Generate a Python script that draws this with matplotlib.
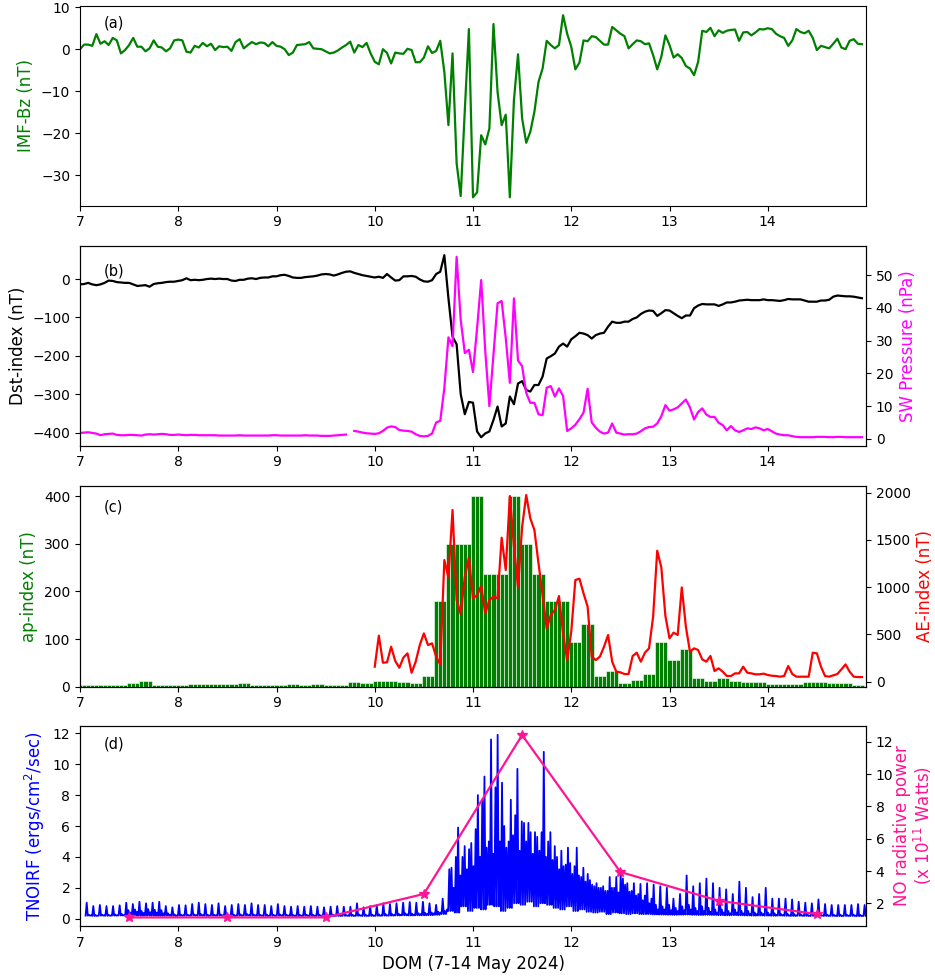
import numpy as np
import matplotlib
matplotlib.use('Agg')
import matplotlib.pyplot as plt
from matplotlib.transforms import blended_transform_factory

# ---------------- data (hourly, 7 May 00UT .. 14 May 23UT) ----------------
imf_bz = [
    0.0, 1.1, 1.1, 0.8, 3.6, 1.3, 1.9, 1.0, 2.7, 2.1, -1.0, -0.2, 1.0, 2.7, 0.6, 0.6, -0.5, 0.2, 2.1, 0.6, 0.4, -0.5, 0.2, 2.1,
    2.3, 2.1, -0.6, -0.8, 0.8, 0.4, 1.5, 0.7, 1.3, -0.2, 0.7, 0.5, 0.6, -0.4, 1.7, 2.4, 0.2, 1.0, 1.7, 1.2, 1.6, 1.5, 0.7, 1.7,
    0.8, 0.6, 0.0, -1.4, -0.8, 1.0, 1.1, 1.2, 1.7, 0.2, 0.1, 0.0, -0.5, -1.0, -0.8, -0.3, 0.4, 1.0, 1.8, -0.8, 1.0, 0.5, 1.5, -1.0,
    -3.0, -3.6, 0.0, -0.9, -3.4, -0.8, -1.0, -1.1, 0.1, -0.2, -3.1, -3.1, -2.0, 0.7, -0.9, -0.4, 2.0, -5.4, -18.1, -1.0, -27.2, -35.0, -14.5, 4.8,
    -35.3, -34.1, -20.5, -22.7, -18.9, 6.0, -10.2, -18.1, -15.6, -35.3, -12.1, -1.2, -16.5, -22.3, -19.7, -14.9, -7.8, -4.6, 2.0, 1.0, 0.2, 1.0, 8.1, 3.7,
    0.6, -4.8, -3.2, 2.1, 1.9, 3.1, 2.9, 2.0, 1.1, 1.1, 5.3, 4.5, 3.7, 3.1, 0.2, 1.2, 2.1, 1.9, 1.2, 1.4, -1.4, -4.8, -1.8, 3.3,
    1.0, -2.0, -1.2, -2.1, -4.0, -4.6, -6.2, -3.0, 4.4, 4.1, 5.1, 3.1, 4.5, 3.9, 4.4, 4.6, 4.7, 2.0, 4.0, 4.1, 3.3, 4.0, 4.8, 4.7,
    5.0, 4.8, 3.7, 3.1, 2.7, 0.8, 2.1, 4.8, 4.1, 3.8, 4.4, 2.7, -0.2, 0.8, 0.5, 0.2, 1.3, 2.5, 0.4, 0.0, 2.0, 2.4, 1.3, 1.2,
]

dst = [
    -14, -13, -10, -14, -16, -14, -10, -4, -5, -8, -9, -10, -10, -14, -18, -17, -16, -20, -13, -11, -10, -8, -7, -7,
    -5, -3, 2, -3, -2, -3, -2, 0, 1, 0, 1, 0, 0, -4, -5, -2, -2, 1, 2, 0, 3, 4, 4, 7,
    7, 10, 11, 8, 4, 3, 3, 5, 6, 7, 9, 12, 13, 12, 9, 12, 16, 19, 20, 16, 13, 10, 8, 6,
    4, 6, 3, 13, 4, -4, -3, 7, 7, 8, 6, -1, -6, -7, -3, 13, 19, 62, -50, -150, -170, -300, -352, -320,
    -322, -397, -412, -402, -397, -367, -332, -384, -376, -306, -326, -272, -266, -289, -293, -276, -276, -254, -207, -201, -194, -176, -168, -176,
    -157, -149, -140, -142, -146, -155, -146, -142, -140, -124, -111, -114, -114, -111, -111, -104, -100, -91, -85, -82, -83, -96, -89, -81,
    -82, -89, -96, -102, -95, -95, -76, -69, -65, -66, -66, -66, -70, -66, -61, -61, -59, -56, -55, -54, -55, -55, -55, -53,
    -55, -55, -56, -57, -55, -52, -53, -53, -53, -56, -59, -59, -59, -56, -56, -54, -46, -43, -44, -45, -45, -46, -48, -50,
]

sw_pressure = [
    1.8, 1.9, 2.0, 1.8, 1.6, 1.1, 1.4, 1.5, 1.6, 1.2, 1.1, 1.1, 1.2, 1.2, 1.1, 1.0, 1.3, 1.4, 1.3, 1.4, 1.5, 1.4, 1.2, 1.2,
    1.3, 1.2, 1.1, 1.2, 1.2, 1.1, 1.1, 1.1, 1.1, 1.1, 1.0, 1.0, 1.0, 1.0, 1.0, 1.1, 1.0, 1.0, 1.0, 1.0, 1.0, 1.0, 1.0, 1.1,
    1.1, 1.0, 1.0, 1.0, 1.0, 1.0, 1.0, 1.1, 1.0, 1.0, 1.0, 0.9, 0.9, 0.9, 1.0, 1.1, 1.2, 1.3, np.nan, 2.4, 2.2, 1.9, 1.7, 1.6,
    1.5, 1.7, 2.4, 3.4, 3.8, 3.6, 2.7, 2.5, 2.4, 2.2, 1.4, 0.9, 0.75, 0.9, 1.6, 5.0, 5.5, 15.5, 31.0, 28.3, 55.6, 36.3, 26.2, 27.2,
    20.4, 33.8, 48.5, 26.7, 10.0, 25.7, 41.4, 42.1, 30.8, 17.1, 42.9, 23.9, 22.2, 14.0, 11.0, 11.0, 7.5, 7.2, 15.6, 16.1, 12.9, 15.4, 13.1, 2.4,
    3.2, 4.3, 6.0, 8.0, 15.3, 5.0, 3.4, 2.2, 1.6, 1.9, 4.7, 1.9, 1.6, 1.3, 1.4, 1.4, 1.6, 2.3, 3.2, 3.6, 3.7, 4.7, 6.9, 10.3,
    8.6, 9.0, 9.6, 10.8, 12.0, 9.6, 5.9, 8.2, 9.3, 7.4, 6.7, 6.7, 4.9, 4.2, 2.6, 3.9, 2.6, 2.1, 2.6, 3.2, 3.0, 3.5, 3.2, 2.6,
    3.0, 2.3, 1.6, 1.3, 1.1, 1.1, 0.8, 0.6, 0.5, 0.5, 0.5, 0.5, 0.6, 0.6, 0.6, 0.5, 0.5, 0.6, 0.6, 0.5, 0.5, 0.5, 0.5, 0.5,
]

# ap index, 3-hourly (8 per day)
ap_3h = [
    4, 4, 4, 4, 7, 12, 4, 4,
    4, 6, 6, 6, 6, 7, 3, 3,
    3, 5, 3, 5, 4, 4, 9, 7,
    12, 12, 9, 7, 22, 179, 300, 300,
    400, 236, 236, 400, 300, 236, 179, 179,
    94, 132, 22, 32, 7, 15, 27, 94,
    56, 80, 18, 12, 18, 12, 9, 9,
    5, 5, 5, 9, 9, 7, 7, 3,
]

# AE index, hourly from 10 May 00UT
ae_index = [
    159, 487, 201, 205, 370, 220, 148, 255, 300, 95, 212, 388, 511, 388, 406, 265, 183, 1287, 1104, 1817, 864, 716, 1111, 1312,
    882, 917, 1012, 723, 864, 899, 882, 1524, 1182, 1965, 1429, 998, 1640, 1975, 1728, 1605, 1252, 917, 564, 705, 758, 906, 511, 229,
    529, 1076, 1090, 935, 794, 265, 229, 265, 370, 494, 212, 106, 99, 81, 81, 272, 307, 212, 307, 353, 688, 1386, 1210, 695,
    459, 519, 494, 998, 582, 317, 353, 335, 236, 212, 272, 113, 141, 106, 60, 60, 88, 88, 159, 95, 88, 78, 78, 85,
    71, 63, 60, 53, 60, 166, 81, 53, 53, 53, 53, 307, 300, 159, 60, 53, 67, 81, 131, 183, 106, 53, 49, 49,
]

# TNOIRF per TIMED orbit: trough, main peak, and two secondary spikes
tn_peak = [
    1.04, 0.82, 0.89, 0.82, 0.82, 0.87, 1.04, 0.95, 1.10, 1.00, 1.04, 1.10, 0.82, 0.74, 0.89, 0.87, 0.95, 1.04, 0.95, 0.89,
    1.00, 0.82, 0.89, 0.95, 0.89, 1.00, 0.89, 0.89, 0.82, 0.95, 0.82, 0.78, 0.82, 0.78, 0.82, 0.78, 0.74, 0.78, 0.82, 0.78,
    0.78, 1.00, 0.74, 0.82, 0.87, 1.00, 0.95, 1.00, 1.04, 1.08, 1.04, 1.10, 1.00, 0.90, 1.30,
    3.2, 4.0, 4.0, 4.5, 5.8, 7.7, 5.0, 8.5, 8.8, 5.0, 6.7, 6.3, 6.2, 5.6, 5.6, 5.0, 4.7, 4.4, 4.6, 3.4,
    2.7, 2.9, 2.1, 2.0, 1.8, 2.0, 2.9, 2.3, 2.3, 2.25, 2.3,
    2.2, 2.1, 2.0, 1.3, 1.6, 2.8, 2.1, 2.3, 2.6, 2.3, 2.0, 1.9, 1.6, 2.4, 2.0, 1.4, 1.6, 2.0, 1.3, 1.3,
    1.3, 1.25, 1.1, 1.04, 1.0, 1.25, 0.95, 0.89, 0.89, 0.89, 0.89, 0.95, 0.89,
]
tn_mid = [
    0.25, 0.24, 0.26, 0.25, 0.27, 0.30, 0.55, 0.60, 0.50, 0.62, 0.58, 0.55, 0.35, 0.28, 0.26, 0.25, 0.27, 0.30, 0.26, 0.25,
    0.27, 0.25, 0.26, 0.28, 0.30, 0.27, 0.25, 0.26, 0.25, 0.27, 0.25, 0.24, 0.25, 0.26, 0.25, 0.24, 0.25, 0.26, 0.25, 0.24,
    0.25, 0.27, 0.25, 0.26, 0.28, 0.30, 0.30, 0.32, 0.35, 0.33, 0.35, 0.38, 0.40, 0.45, 0.50,
    3.3, 5.9, 4.7, 4.9, 8.0, 9.2, 11.6, 11.9, 6.0, 7.7, 9.7, 6.2, 5.6, 5.3, 10.8, 5.6, 4.0, 3.4, 3.6, 4.6,
    3.3, 2.5, 2.3, 2.1, 2.7, 2.7, 2.6, 1.75, 1.5, 1.2, 1.0,
    0.9, 0.8, 0.9, 0.7, 0.8, 0.9, 0.7, 0.8, 0.7, 0.6, 0.6, 0.5, 0.6, 0.5, 0.5, 0.4, 0.4, 0.4, 0.35, 0.3,
    0.3, 0.3, 0.28, 0.28, 0.27, 0.28, 0.26, 0.25, 0.26, 0.25, 0.26, 0.25, 0.25,
]
tn_mid2 = [
    0.22, 0.20, 0.22, 0.21, 0.22, 0.24, 0.40, 0.45, 0.38, 0.42, 0.40, 0.35, 0.25, 0.21, 0.22, 0.22, 0.23, 0.24, 0.22, 0.22,
    0.22, 0.21, 0.20, 0.22, 0.23, 0.22, 0.21, 0.20, 0.21, 0.22, 0.21, 0.20, 0.20, 0.21, 0.20, 0.20, 0.21, 0.20, 0.20, 0.21,
    0.20, 0.21, 0.20, 0.20, 0.21, 0.22, 0.24, 0.26, 0.28, 0.27, 0.30, 0.32, 0.35, 0.40, 0.60,
    2.0, 2.8, 3.2, 3.4, 4.0, 4.6, 4.2, 5.0, 4.6, 5.4, 4.4, 5.0, 4.2, 4.4, 4.0, 3.8, 3.2, 3.5, 2.9, 2.8,
    2.4, 2.2, 2.0, 1.8, 2.0, 1.7, 2.2, 1.8, 1.6, 1.5, 1.3,
    0.6, 0.6, 0.55, 0.5, 0.55, 0.6, 0.5, 0.5, 0.45, 0.4, 0.4, 0.35, 0.4, 0.35, 0.3, 0.3, 0.3, 0.28, 0.25, 0.24,
    0.22, 0.21, 0.21, 0.20, 0.20, 0.21, 0.20, 0.20, 0.19, 0.20, 0.20, 0.19, 0.20,
]
tn_trough = [
    0.20, 0.18, 0.20, 0.19, 0.20, 0.21, 0.20, 0.22, 0.20, 0.21, 0.20, 0.19, 0.20, 0.18, 0.19, 0.20, 0.21, 0.20, 0.19, 0.20,
    0.20, 0.19, 0.18, 0.20, 0.21, 0.20, 0.19, 0.18, 0.19, 0.20, 0.19, 0.18, 0.18, 0.19, 0.18, 0.18, 0.19, 0.18, 0.18, 0.19,
    0.18, 0.19, 0.18, 0.18, 0.19, 0.20, 0.20, 0.21, 0.22, 0.21, 0.22, 0.22, 0.23, 0.25, 0.30,
    0.5, 0.4, 0.8, 0.5, 0.7, 0.6, 0.9, 0.8, 0.5, 0.7, 1.0, 0.9, 1.1, 0.8, 1.0, 0.9, 0.7, 0.6, 0.8, 0.5,
    0.6, 0.45, 0.4, 0.45, 0.3, 0.4, 0.35, 0.3, 0.35, 0.3, 0.3,
    0.28, 0.27, 0.26, 0.25, 0.26, 0.27, 0.25, 0.24, 0.25, 0.24, 0.23, 0.22, 0.23, 0.22, 0.21, 0.20, 0.21, 0.20, 0.19, 0.20,
    0.19, 0.18, 0.19, 0.18, 0.18, 0.19, 0.18, 0.18, 0.17, 0.18, 0.18, 0.17, 0.18,
]
orbit_start = 7.057     # day of first orbit
orbit_period = 0.0671   # days (~96.6 min)

# daily NO radiative power (x1e11 W), at noon of each day
no_days = [7.5, 8.5, 9.5, 10.5, 11.5, 12.5, 13.5, 14.5]
no_power = [1.13, 1.13, 1.13, 2.58, 12.41, 3.94, 2.16, 1.34]

xticks = [7, 8, 9, 10, 11, 12, 13, 14]

# ---------------- derived time axes ----------------
t_hour = 7 + np.arange(len(imf_bz)) / 24.0
t_ae = 10 + np.arange(len(ae_index)) / 24.0
ap_hourly = np.repeat(ap_3h, 3)

tn_t, tn_v = [], []
for k in range(len(tn_peak)):
    t0 = orbit_start + k * orbit_period
    tn_t += [t0 + orbit_period * f for f in (0, 1 / 6, 2 / 6, 3 / 6, 4 / 6, 5 / 6)]
    tn_v += [tn_trough[k], tn_peak[k], tn_trough[k], tn_mid[k], tn_trough[k], tn_mid2[k]]
tn_t = np.array(tn_t)
tn_v = np.array(tn_v)

# ---------------- figure ----------------
plt.rcParams['font.family'] = 'DejaVu Sans'
plt.rcParams['xtick.labelsize'] = 10
plt.rcParams['ytick.labelsize'] = 10

fig = plt.figure(figsize=(9.35, 9.76), dpi=100)
L, W = 80 / 935, 786 / 935


def add_ax(top_px, bottom_px):
    return fig.add_axes([L, 1 - bottom_px / 976, W, (bottom_px - top_px) / 976])


LABEL_FS = 12

# (a) IMF Bz
ax1 = add_ax(6, 205.7)
ax1.plot(t_hour, imf_bz, color='green', lw=1.6)
ax1.set_ylim(-37.3, 10.3)
ax1.set_yticks([10, 0, -10, -20, -30])
ax1.set_ylabel('IMF-Bz (nT)', color='green', fontsize=LABEL_FS)

# (b) Dst + SW pressure
ax2 = add_ax(246, 445.7)
ax2.plot(t_hour, dst, color='black', lw=1.6)
ax2.set_ylim(-434, 86)
ax2.set_yticks([0, -100, -200, -300, -400])
ax2.set_ylabel('Dst-index (nT)', color='black', fontsize=LABEL_FS)
ax2r = ax2.twinx()
ax2r.plot(t_hour, sw_pressure, color='magenta', lw=1.6)
ax2r.set_ylim(-2.1, 58.9)
ax2r.set_yticks([0, 10, 20, 30, 40, 50])
ax2r.set_ylabel('SW Pressure (nPa)', color='magenta', fontsize=LABEL_FS)

# (c) ap + AE
ax3 = add_ax(486, 686.7)
ax3.bar(t_hour, ap_hourly, width=1 / 24, color='green', edgecolor='white', linewidth=0.4)
ax3.set_ylim(0, 421)
ax3.set_yticks([0, 100, 200, 300, 400])
ax3.set_ylabel('ap-index (nT)', color='green', fontsize=LABEL_FS)
ax3r = ax3.twinx()
ax3r.plot(t_ae, ae_index, color='red', lw=1.6)
ax3r.set_ylim(-53, 2071)
ax3r.set_yticks([0, 500, 1000, 1500, 2000])
ax3r.set_ylabel('AE-index (nT)', color='red', fontsize=LABEL_FS)

# (d) TNOIRF + NO power
ax4 = add_ax(726, 926)
ax4.plot(tn_t, tn_v, color='blue', lw=1.3)
ax4.set_ylim(-0.47, 12.47)
ax4.set_yticks([0, 2, 4, 6, 8, 10, 12])
ax4.set_ylabel('TNOIRF (ergs/cm$^2$/sec)', color='blue', fontsize=LABEL_FS)
ax4.set_xlabel('DOM (7-14 May 2024)', fontsize=LABEL_FS)
ax4r = ax4.twinx()
ax4r.plot(no_days, no_power, color='deeppink', lw=1.6, marker='*', markersize=7)
ax4r.set_ylim(0.6, 12.97)
ax4r.set_yticks([2, 4, 6, 8, 10, 12])
ax4r.set_ylabel('NO radiative power\n(x 10$^{11}$ Watts)', color='deeppink',
                fontsize=LABEL_FS, labelpad=0, linespacing=1.05)

for ax, lab, yf in [(ax1, '(a)', 0.915), (ax2, '(b)', 0.876), (ax3, '(c)', 0.897), (ax4, '(d)', 0.908)]:
    ax.set_xlim(7, 15)
    ax.set_xticks(xticks)
    tr = blended_transform_factory(ax.transData, ax.transAxes)
    ax.text(7.245, yf, lab, transform=tr, ha='left', va='center', fontsize=10.5)

fig.savefig('out.png', dpi=100)
